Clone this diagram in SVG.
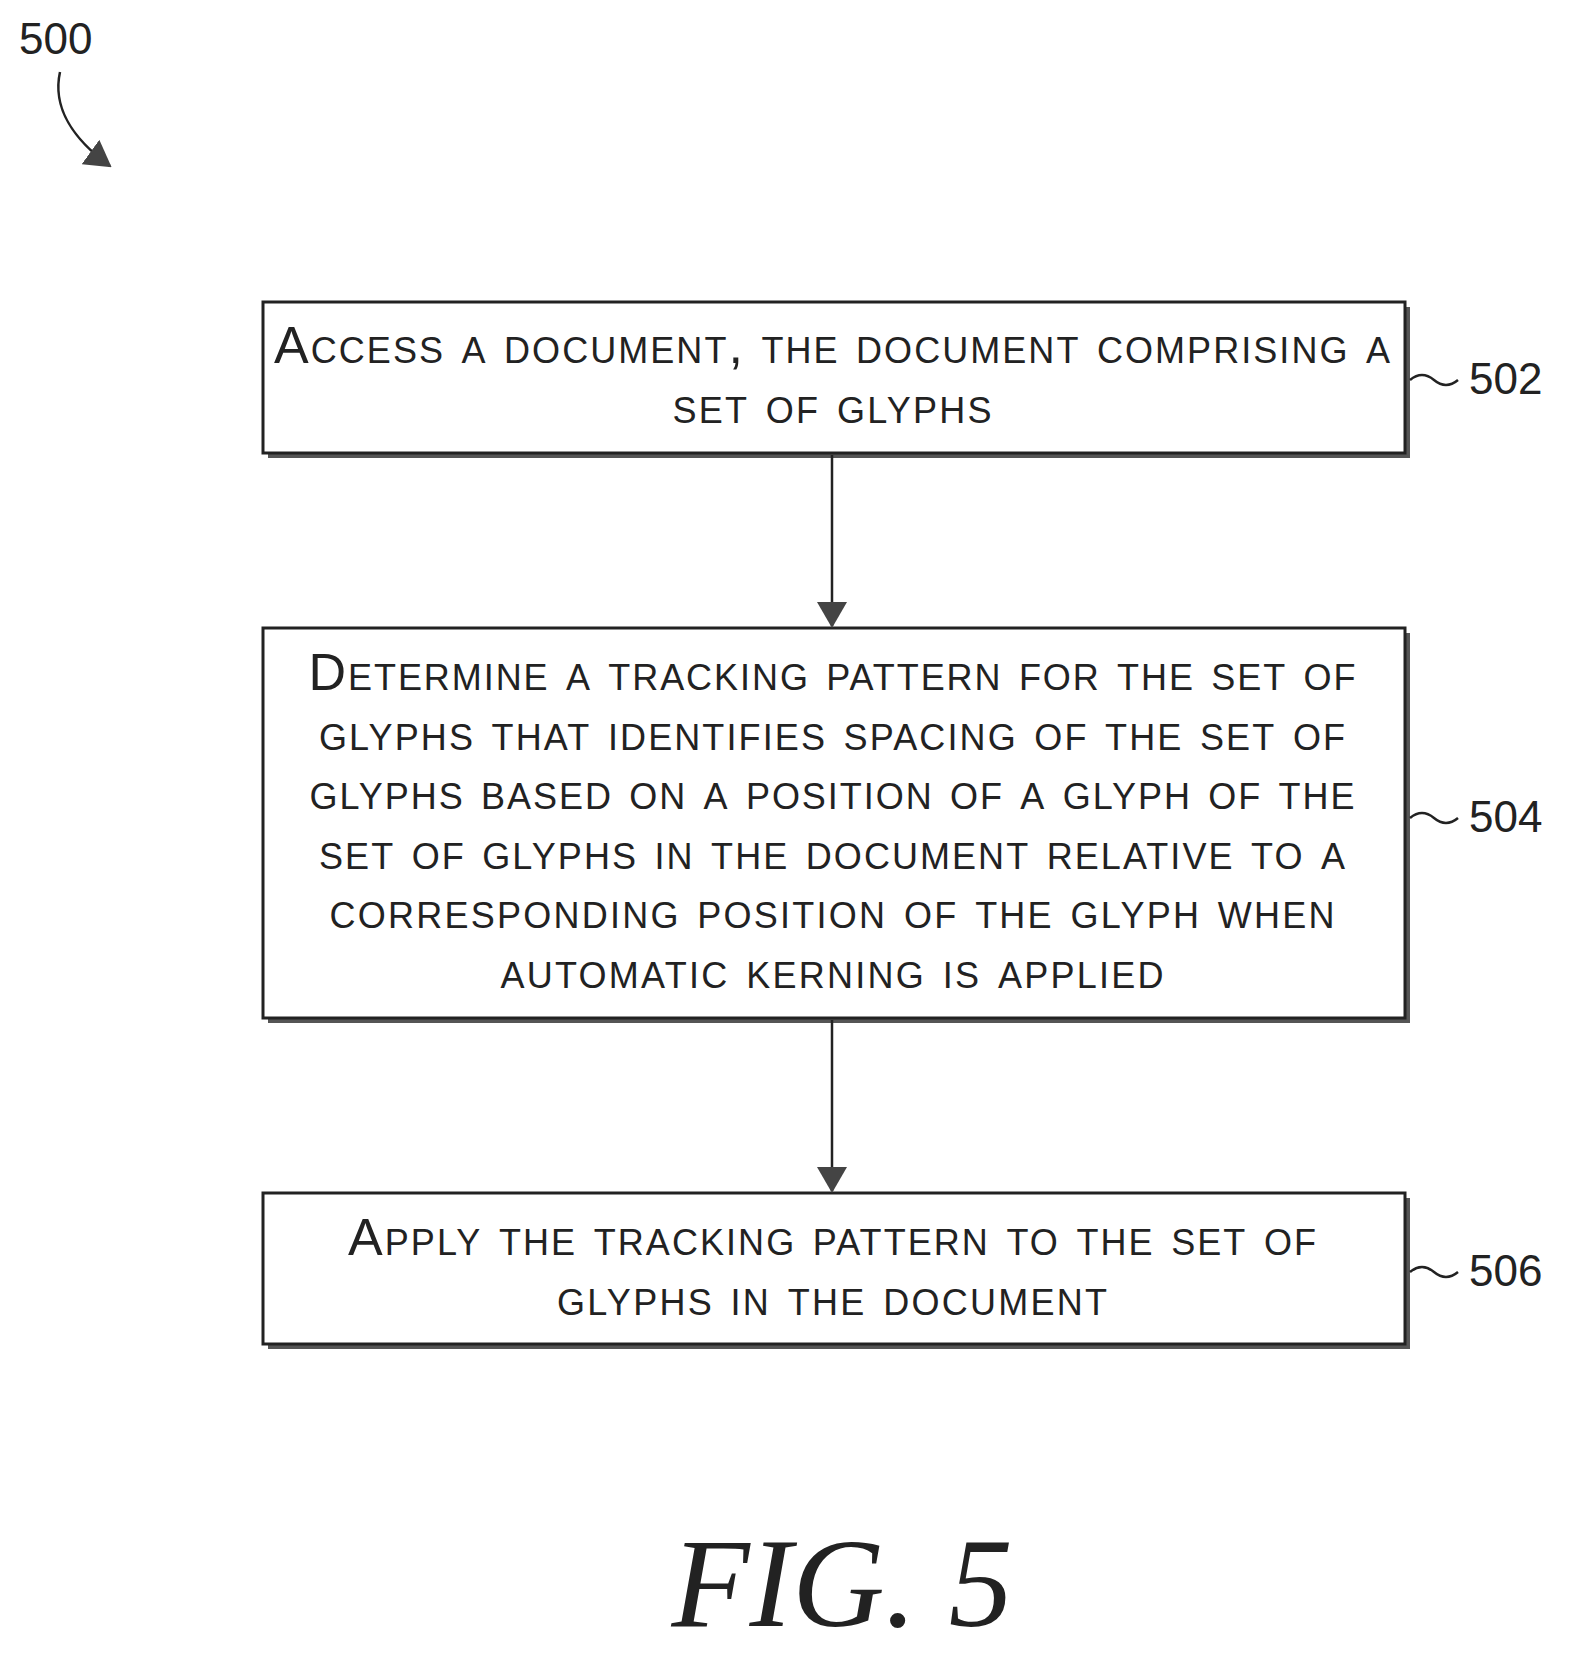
<svg xmlns="http://www.w3.org/2000/svg" width="1579" height="1661" viewBox="0 0 1579 1661">
<style>
.box{fill:#fff;stroke:#222;stroke-width:3}
.sh{fill:#555}
.t{font-family:"Liberation Sans",Arial,sans-serif;font-size:52px;font-variant:small-caps;text-anchor:middle;fill:#222}
.lbl{font-family:"Liberation Sans",Arial,sans-serif;font-size:44px;fill:#222}
.ln{stroke:#222;stroke-width:2.5;fill:none}
</style>
<defs>
<marker id="ab" markerWidth="26" markerHeight="30" refX="24" refY="15" orient="auto" markerUnits="userSpaceOnUse"><path d="M0,0 L26,15 L0,30 Z" fill="#444"/></marker></defs>
<text class="lbl" x="19" y="54">500</text>
<path class="ln" d="M60,72 C52,108 74,140 110,166" marker-end="url(#ab)"/>
<g id="n502"><rect class="sh" x="268" y="307" width="1142" height="151"/><rect class="box" x="263" y="302" width="1142" height="151"/>
<text class="t" x="832" y="363" textLength="1116" lengthAdjust="spacing">Access a document, the document comprising a</text><text class="t" x="832" y="423" textLength="319" lengthAdjust="spacing">set of glyphs</text>
<path class="ln" d="M1410,380 q12,-10 24,0 t24,0"/><text class="lbl" x="1469" y="394">502</text></g>
<g id="n504"><rect class="sh" x="268" y="633" width="1142" height="390"/><rect class="box" x="263" y="628" width="1142" height="390"/>
<text class="t" x="832" y="690" textLength="1047" lengthAdjust="spacing">Determine a tracking pattern for the set of</text>
<text class="t" x="832" y="750" textLength="1026" lengthAdjust="spacing">glyphs that identifies spacing of the set of</text>
<text class="t" x="832" y="809" textLength="1045" lengthAdjust="spacing">glyphs based on a position of a glyph of the</text>
<text class="t" x="832" y="869" textLength="1026" lengthAdjust="spacing">set of glyphs in the document relative to a</text>
<text class="t" x="832" y="928" textLength="1005" lengthAdjust="spacing">corresponding position of the glyph when</text>
<text class="t" x="832" y="988" textLength="663" lengthAdjust="spacing">automatic kerning is applied</text>
<path class="ln" d="M1410,818 q12,-10 24,0 t24,0"/><text class="lbl" x="1469" y="832">504</text></g>
<g id="n506"><rect class="sh" x="268" y="1198" width="1142" height="151"/><rect class="box" x="263" y="1193" width="1142" height="151"/>
<text class="t" x="832" y="1255" textLength="968" lengthAdjust="spacing">Apply the tracking pattern to the set of</text><text class="t" x="832" y="1315" textLength="550" lengthAdjust="spacing">glyphs in the document</text>
<path class="ln" d="M1410,1272 q12,-10 24,0 t24,0"/><text class="lbl" x="1469" y="1286">506</text></g>
<g id="connectors">
<line class="ln" x1="832" y1="455" x2="832" y2="626" marker-end="url(#ab)"/>
<line class="ln" x1="832" y1="1020" x2="832" y2="1191" marker-end="url(#ab)"/>
</g>
<text x="842" y="1626" font-family="Liberation Serif,serif" font-style="italic" font-size="128" text-anchor="middle" fill="#222">FIG. 5</text>
</svg>
